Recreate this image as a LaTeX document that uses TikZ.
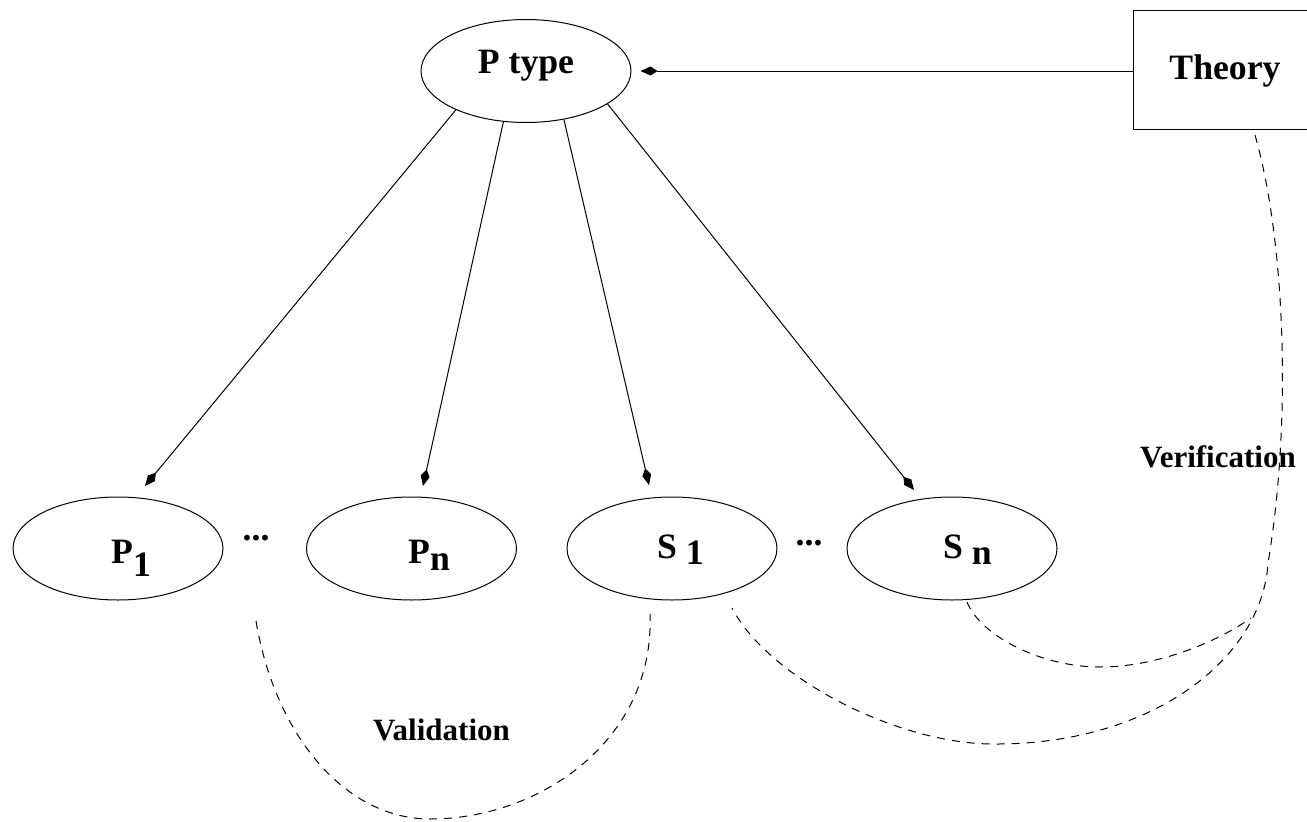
\documentclass[tikz,border=0pt]{standalone}
\usepackage{fontspec}
\setmainfont{Liberation Serif}
\usetikzlibrary{arrows.meta,shapes.geometric}
\newcommand\LabBig{\fontsize{35.7}{40}\selectfont\bfseries}
\newcommand\LabMid{\fontsize{31}{36}\selectfont\bfseries}
\begin{document}
\begin{tikzpicture}[x=1pt,y=-1pt,
  ell/.style={draw,ellipse,line width=1pt,minimum width=210pt,minimum height=103pt,inner sep=0pt},
  box/.style={draw,rectangle,line width=1pt,minimum width=184pt,minimum height=119pt,inner sep=0pt},
  lab/.style={inner sep=0pt,font=\LabBig},
  note/.style={inner sep=0pt,font=\LabMid},
  arr/.style={line width=1pt,-{Kite[length=17pt,width=9pt,inset=7pt]}},
  dsh/.style={line width=1pt,dash pattern=on 8pt off 7pt}]
\useasboundingbox (0,0) rectangle (1307,822);
\clip (0,0) rectangle (1307,822);
% shapes
\node[ell] (pt) at (526,71) {};
\node[box] (th) at (1225,69.5) {};
\node[ell] (p1) at (118,548.5) {};
\node[ell] (pn) at (411.5,548.5) {};
\node[ell] (s1) at (672,548.5) {};
\node[ell] (sn) at (952,548.5) {};
% texts
\node[lab,anchor=base] (ptt) at (526,73) {P type};
\node[lab,anchor=base] (tht) at (1225,79) {Theory};
\node[lab,anchor=base west] (p1t) at (111,563) {P\raisebox{-13pt}{1}};
\node[lab,anchor=base west] (pnt) at (408,563) {P\raisebox{-7pt}{n}};
\node[lab,anchor=base west] (s1t) at (657,558) {S \raisebox{-6pt}{1}};
\node[lab,anchor=base west] (snt) at (943,558) {S \raisebox{-6pt}{n}};
\node[lab,anchor=base west] (d1) at (242.5,540) {...};
\node[lab,anchor=base west] (d2) at (795.5,545) {...};
\node[note,anchor=base] (val) at (441.5,740) {Validation};
\node[note,anchor=base west] (ver) at (1140,467) {Verification};
% arrow tips
\coordinate (t1) at (145,486);
\coordinate (t2) at (423,486);
\coordinate (t3) at (649,485);
\coordinate (t4) at (914,490);
\draw[arr] (pt.209.8) -- (t1);
\draw[arr] (pt.246.1) -- (t2);
\draw[arr] (pt.308.3) -- (t3);
\draw[arr] (pt.338.4) -- (t4);
\draw[arr,shorten >=9pt] (th.west |- pt.east) -- (pt.east);
% dashed links
\coordinate (va) at (256,621);
\coordinate (vb) at (650,614);
\draw[dsh] (va) .. controls (275,735) and (345,819) .. (430,819)
  .. controls (540,819) and (655,740) .. (vb);
\coordinate (ta) at (1255,135);
\coordinate (sa) at (732,608);
\draw[dsh] (ta) .. controls (1285,240) and (1292,420) .. (1268,563)
  .. controls (1262,660) and (1150,745) .. (993,744)
  .. controls (900,744) and (770,680) .. (sa);
\coordinate (sb) at (967,602);
\coordinate (jn) at (1251,618);
\draw[dsh] (sb) .. controls (980,635) and (1040,667) .. (1100,667)
  .. controls (1160,667) and (1220,640) .. (jn);
\end{tikzpicture}
\end{document}
